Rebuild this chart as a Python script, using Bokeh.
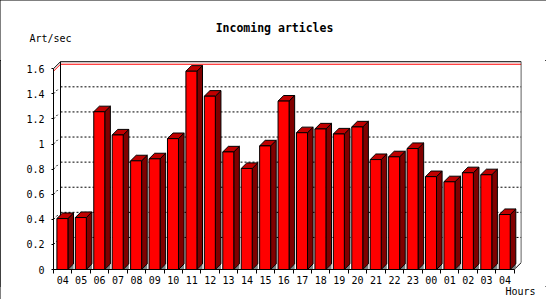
from bokeh.plotting import figure
from bokeh.layouts import column
from bokeh.models import Range1d, FixedTicker, NumeralTickFormatter
from bokeh.core.properties import value
from bokeh.embed import file_html
from bokeh.resources import INLINE

# ---- data ----
hours = ["04", "05", "06", "07", "08", "09", "10", "11", "12", "13", "14", "15", "16",
         "17", "18", "19", "20", "21", "22", "23", "00", "01", "02", "03", "04"]
rates = [0.406, 0.414, 1.257, 1.072, 0.866, 0.882, 1.043, 1.580, 1.381, 0.937, 0.805, 0.985,
         1.342, 1.090, 1.120, 1.080, 1.136, 0.876, 0.898, 0.964, 0.740, 0.699, 0.771, 0.755, 0.438]
y_ticks = [0, 0.2, 0.4, 0.6, 0.8, 1.0, 1.2, 1.4, 1.6]
title_text = "Incoming articles"
y_label = "Art/sec"
x_label = "Hours"

# ---- layout (pixels) ----
W, H = 546, 299
HEAD = 60            # header strip height (title + unit label)
FOOT = 13            # footer strip height (x label)
FL, FR, FB = 53, 521, 210   # main plot frame (within main figure)
SLOT = 18.43     # px per category
PXU = 126.1      # px per unit value
FONT = "DejaVu Sans Mono"
MAIN_H = H - HEAD - FOOT

n = len(hours)
y_max = y_ticks[-1]
x0 = -0.5
x1 = x0 + (FR - FL) / SLOT
y1 = FB / PXU


def strip(height):
    f = figure(width=W, height=height, output_backend="svg", toolbar_location=None,
               x_range=Range1d(0, W), y_range=Range1d(height, 0),
               min_border=0, x_axis_location=None, y_axis_location=None)
    f.frame_align = False
    f.outline_line_color = None
    f.grid.grid_line_color = None
    f.background_fill_color = "white"
    f.border_fill_color = "white"
    return f


# header
head = strip(HEAD)
head.text(x=[274], y=[27], text=[title_text], text_align="center", text_baseline="middle",
          text_font=value(FONT), text_font_style="bold", text_font_size="11.5px",
          text_color="black")
head.text(x=[29], y=[38], text=[y_label], text_align="left", text_baseline="middle",
          text_font=value(FONT), text_font_size="10px", text_color="black")

# footer
foot = strip(FOOT)
foot.text(x=[505], y=[5], text=[x_label], text_align="left", text_baseline="middle",
          text_font=value(FONT), text_font_size="10px", text_color="black")

# main plot
p = figure(width=W, height=MAIN_H, output_backend="svg", toolbar_location=None,
           x_range=Range1d(x0, x1), y_range=Range1d(0, y1),
           min_border_left=FL, min_border_right=W - FR, min_border_top=0,
           min_border_bottom=MAIN_H - FB)
p.frame_align = False
p.outline_line_color = None
p.background_fill_color = "white"
p.border_fill_color = "white"
p.grid.grid_line_color = None

# x axis
xa = p.xaxis[0]
xa.ticker = FixedTicker(ticks=list(range(n)), minor_ticks=[i - 0.5 for i in range(n + 1)])
xa.major_label_overrides = {i: h for i, h in enumerate(hours)}
xa.bounds = (-0.5, n - 0.5)
xa.major_tick_line_color = None
xa.major_tick_out = 0
xa.major_tick_in = 0
xa.minor_tick_out = 4
xa.minor_tick_in = 0
xa.minor_tick_line_color = "black"
xa.axis_line_color = "black"
xa.major_label_standoff = 2
xa.major_label_text_font = FONT
xa.major_label_text_font_size = "10px"
xa.major_label_text_color = "black"

# y axis
ya = p.yaxis[0]
ya.ticker = FixedTicker(ticks=y_ticks, minor_ticks=[])
ya.formatter = NumeralTickFormatter(format="0.[0]")
ya.bounds = (0, y_max)
ya.major_tick_out = 2
ya.major_tick_in = 0
ya.minor_tick_line_color = None
ya.major_tick_line_color = "black"
ya.axis_line_color = "black"
ya.major_label_standoff = 7
ya.major_label_text_font = FONT
ya.major_label_text_font_size = "10px"
ya.major_label_text_color = "black"

# ---- 3D geometry in data units ----
pdx, pdy = 7 / SLOT, 7 / PXU        # back plane depth
bdx, bdy = 5.6 / SLOT, 5.6 / PXU    # bar depth
bl = [i - 0.5 + 3.4 / SLOT for i in range(n)]
br = [l + 11 / SLOT for l in bl]
xl, xr = -0.5, n - 0.5

grid_vals = y_ticks[1:-1]
# back plane dotted grid
p.segment(x0=[xl + pdx] * len(grid_vals), y0=[v + pdy for v in grid_vals],
          x1=[xr + pdx] * len(grid_vals), y1=[v + pdy for v in grid_vals],
          line_color="black", line_width=1, line_dash="2 2")
# left wall grid
p.segment(x0=[xl] * len(grid_vals), y0=grid_vals,
          x1=[xl + pdx * 0.6] * len(grid_vals), y1=[v + pdy * 0.6 for v in grid_vals],
          line_color="black", line_width=1, line_dash="2 2")
# max line (red)
vm = max(rates)
p.line(x=[xl, xl + pdx, xr + pdx], y=[vm, vm + pdy, vm + pdy], line_color="red", line_width=1)
# back frame
p.line(x=[xl, xl + pdx, xr + pdx, xr + pdx, xr],
       y=[y_max, y_max + pdy, y_max + pdy, pdy, 0], line_color="black", line_width=1)
p.line(x=[xl + pdx, xl + pdx], y=[pdy, y_max + pdy], line_color="black", line_width=1)

# shadow triangles
p.patches(xs=[[r, r + bdx, r + bdx] for r in br], ys=[[0, bdy, 0] for _ in br],
          fill_color="#808080", line_color=None)
# sides
p.patches(xs=[[r, r + bdx, r + bdx, r] for r in br],
          ys=[[0, bdy, v + bdy, v] for v in rates],
          fill_color="#800000", line_color="black", line_width=1)
# tops
p.patches(xs=[[l, r, r + bdx, l + bdx] for l, r in zip(bl, br)],
          ys=[[v, v, v + bdy, v + bdy] for v in rates],
          fill_color="#C00000", line_color="black", line_width=1)
# fronts
p.quad(left=bl, right=br, bottom=0, top=rates,
       fill_color="#FF0000", line_color="black", line_width=1)

layout = column(head, p, foot, spacing=0)
layout.styles = {"outline": "1px solid black", "outline-offset": "-1px"}

open("out.html", "w").write(file_html(layout, INLINE))
